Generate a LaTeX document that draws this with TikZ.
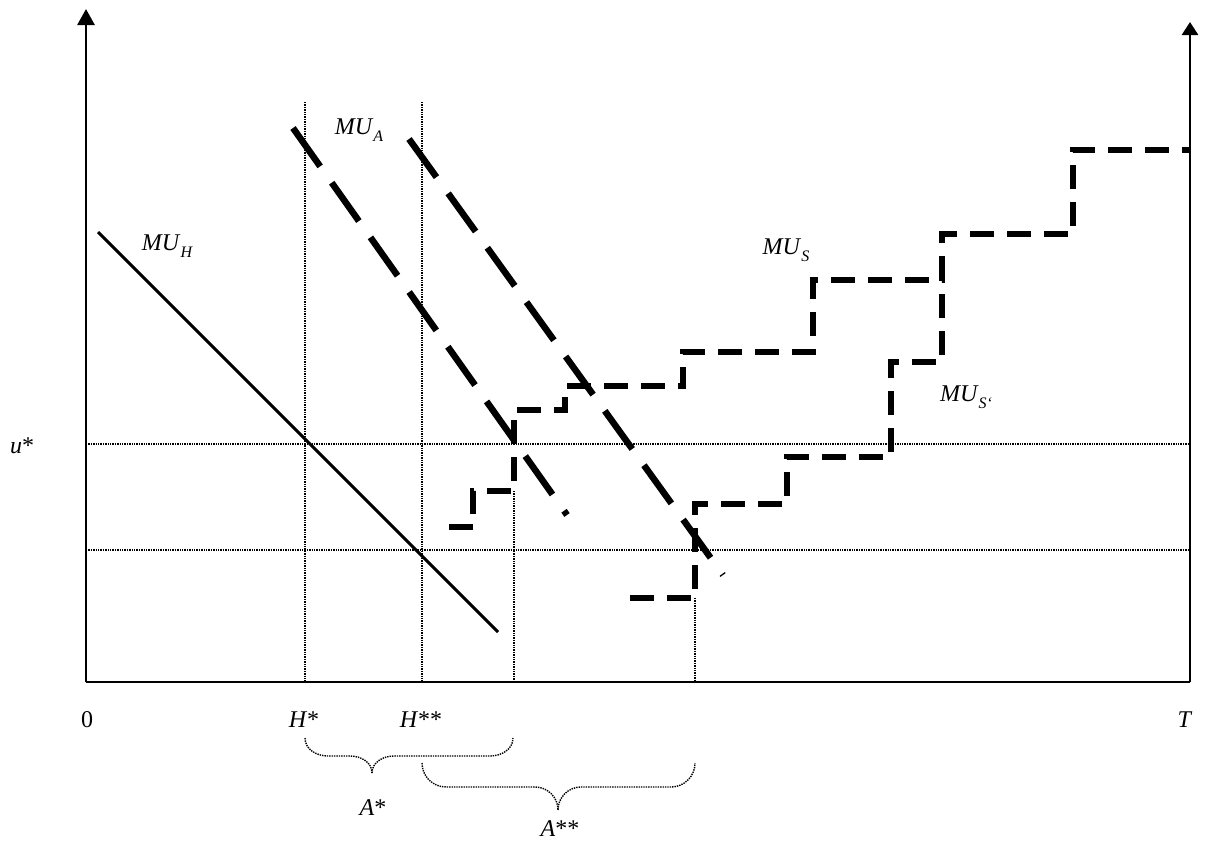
\documentclass[tikz,border=0pt]{standalone}
\usepackage{fontspec}
\setmainfont{Liberation Serif}
\usetikzlibrary{arrows.meta}
\newcommand\lbsub[1]{\raisebox{-0.28em}{\fontsize{16}{16}\selectfont\itshape #1}}
\begin{document}
\begin{tikzpicture}[x=1pt,y=-1pt,
  axis/.style={line width=2.8pt},
  thin dots/.style={line width=1.4pt, dash pattern=on 1.4pt off 1pt},
  stairs/.style={line width=6pt, dash pattern=on 24pt off 13pt, line join=miter},
  mua/.style={line width=6.5pt, dash pattern=on 47pt off 20pt},
  muh/.style={line width=3pt},
  lbl/.style={font=\fontsize{24}{24}\selectfont, inner sep=0pt},
]
\useasboundingbox (0,0) rectangle (1207,844);
% axes
\coordinate (O) at (86,682);
\coordinate (Ytop) at (86,9);
\coordinate (Tb) at (1190,682);
\coordinate (Ttop) at (1190,22);
\draw[axis,-{Triangle[width=17pt,length=16pt]}] (O) -- (Ytop);
\draw[axis] (O) -- (Tb);
\draw[axis,-{Triangle[width=16pt,length=13pt]}] (Tb) -- (Ttop);
% thin dotted guides
\draw[thin dots] (86,444) -- (1190,444);
\draw[thin dots] (86,550) -- (1190,550);
\draw[thin dots] (305,102) -- (305,682);
\draw[thin dots] (422,102) -- (422,682);
\draw[thin dots] (514,491) -- (514,682);
\draw[thin dots] (695,598) -- (695,682);
% MU_H
\coordinate (H1) at (98,232);
\coordinate (H2) at (498,632);
\draw[muh] (H1) -- (H2);
% MU_A lines
\coordinate (A1s) at (293,128);
\coordinate (A1e) at (567,515);
\coordinate (A2s) at (409,139);
\coordinate (A2e) at (723,575);
\draw[mua] (A1s) -- (A1e);
\draw[mua] (A2s) -- (A2e);
% MU_S staircase
\draw[stairs] (449,527) -- (473,527) -- (473,491) -- (514,491) -- (514,410) -- (565,410) -- (565,386) -- (683,386) -- (683,352) -- (813,352) -- (813,280) -- (942,280) -- (942,234) -- (1073,234) -- (1073,150) -- (1190,150);
% MU_S' staircase
\draw[stairs] (630,598) -- (695,598) -- (695,504) -- (787,504) -- (787,457) -- (891,457) -- (891,362) -- (942,362) -- (942,280);
% braces
\draw[thin dots] (305,738) to[out=-90,in=180] (328,756) -- (350,756) to[out=0,in=90] (372,773);
\draw[thin dots] (372,773) to[out=90,in=180] (394,756) -- (490,756) to[out=0,in=-90] (513,738);
\draw[thin dots] (422,763) to[out=-90,in=180] (446,787) -- (535,787) to[out=0,in=90] (558,810);
\draw[thin dots] (558,810) to[out=90,in=180] (581,787) -- (671,787) to[out=0,in=-90] (695,763);
% labels
\node[lbl] (lMUH) at (167,246) {\textit{MU}\lbsub{H}};
\node[lbl] (lMUA) at (359,130) {\textit{MU}\lbsub{A}};
\node[lbl] (lMUS) at (786,250) {\textit{MU}\lbsub{S}};
\node[lbl] (lMUSp) at (966,397) {\textit{MU}\lbsub{S‘}};
\node[lbl] (lu) at (22,446) {\textit{u}*};
\node[lbl] (l0) at (87,720) {0};
\node[lbl] (lH1) at (304,720) {\textit{H}*};
\node[lbl] (lH2) at (421,720) {\textit{H}**};
\node[lbl] (lT) at (1185,720) {\textit{T}};
\node[lbl] (lA1) at (373,808) {\textit{A}*};
\node[lbl] (lA2) at (560,829) {\textit{A}**};
\end{tikzpicture}
\end{document}
